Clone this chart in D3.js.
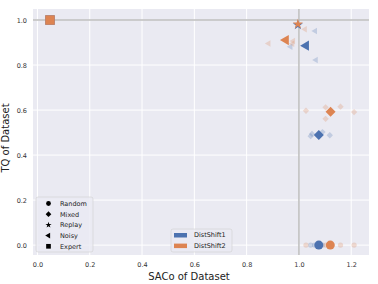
<!DOCTYPE html>
<html><head><meta charset="utf-8">
<script src="https://cdn.jsdelivr.net/npm/d3@7"></script>
<style>body{margin:0;background:#fff}svg{display:block;font-family:"DejaVu Sans",sans-serif}</style>
</head><body><svg id="c" width="378" height="284"></svg>
<script>
const xTicks=[0.0,0.2,0.4,0.6,0.8,1.0,1.2];
const yTicks=[0.0,0.2,0.4,0.6,0.8,1.0];
const seriesNames=["DistShift1","DistShift2"];
const colors=["#4C72B0","#DD8452"];
const datasets=["Random","Mixed","Replay","Noisy","Expert"];
// mean points [series, dataset, saco, tq]
const meanPts=[
 [0,"Random",1.076,0.0],[1,"Random",1.120,0.0],
 [0,"Mixed",1.076,0.489],[1,"Mixed",1.121,0.592],
 [0,"Replay",0.996,0.978],[1,"Replay",0.996,0.982],
 [0,"Noisy",1.027,0.886],[1,"Noisy",0.950,0.911],
 [0,"Expert",0.048,1.0],[1,"Expert",0.048,1.0]
];
// individual runs (faded)
const runPts=[
 [0,"Random",1.045,0.0],[0,"Random",1.060,0.0],[0,"Random",1.090,0.0],
 [1,"Random",1.027,0.0],[1,"Random",1.102,0.0],[1,"Random",1.159,0.0],[1,"Random",1.211,0.0],
 [0,"Mixed",1.045,0.484],[0,"Mixed",1.050,0.494],[0,"Mixed",1.090,0.502],[0,"Mixed",1.118,0.488],
 [1,"Mixed",1.027,0.597],[1,"Mixed",1.102,0.612],[1,"Mixed",1.159,0.615],[1,"Mixed",1.211,0.591],[1,"Mixed",1.102,0.561],
 [0,"Noisy",1.062,0.951],[0,"Noisy",0.968,0.881],[0,"Noisy",1.065,0.822],
 [1,"Noisy",0.884,0.896],[1,"Noisy",1.023,0.959],[1,"Noisy",0.978,0.907],[1,"Noisy",0.975,0.895]
];

const svg=d3.select("#c");
const L=33,R=369,T=9,B=255;
const x=d3.scaleLinear().domain([-0.017,1.268]).range([L,R]);
const y=d3.scaleLinear().domain([-0.044,1.049]).range([B,T]);

svg.append("rect").attr("x",L).attr("y",T).attr("width",R-L).attr("height",B-T).attr("fill","#EAEAF2");
const g=svg.append("g");
g.selectAll(".gx").data(xTicks).join("line").attr("x1",d=>x(d)).attr("x2",d=>x(d)).attr("y1",T).attr("y2",B).attr("stroke","#fff").attr("stroke-width",1);
g.selectAll(".gy").data(yTicks).join("line").attr("y1",d=>y(d)).attr("y2",d=>y(d)).attr("x1",L).attr("x2",R).attr("stroke","#fff").attr("stroke-width",1);

// axes (tick labels only)
const xa=svg.append("g").attr("transform",`translate(0,${B})`).call(d3.axisBottom(x).tickValues(xTicks).tickFormat(d3.format(".1f")).tickSize(0).tickPadding(7));
const ya=svg.append("g").attr("transform",`translate(${L},0)`).call(d3.axisLeft(y).tickValues(yTicks).tickFormat(d3.format(".1f")).tickSize(0).tickPadding(6));
[xa,ya].forEach(a=>{a.select(".domain").remove();a.selectAll("text").attr("font-size",6.5).attr("fill","#333").attr("font-family","DejaVu Sans");});

// reference lines
svg.append("line").attr("x1",L).attr("x2",R).attr("y1",y(1)).attr("y2",y(1)).attr("stroke","#bdbdbd").attr("stroke-width",1.5);
svg.append("line").attr("x1",x(1)).attr("x2",x(1)).attr("y1",T).attr("y2",B).attr("stroke","#bdbdbd").attr("stroke-width",1.5);

function sym(name,size){
  let t;
  if(name==="Random") t=d3.symbolCircle;
  else if(name==="Mixed") t=d3.symbolSquare;
  else if(name==="Replay") t=d3.symbolStar;
  else if(name==="Noisy") t=d3.symbolTriangle;
  else t=d3.symbolSquare;
  return d3.symbol().type(t).size(size)();
}
function rot(name){return name==="Mixed"?45:(name==="Noisy"?-90:0);}
const bigSize={Random:64,Mixed:50,Replay:32,Noisy:45,Expert:90};
const smallSize={Random:22,Mixed:20,Replay:14,Noisy:18,Expert:30};

svg.append("g").selectAll("path").data(runPts).join("path")
 .attr("d",d=>sym(d[1],smallSize[d[1]]))
 .attr("transform",d=>`translate(${x(d[2])},${y(d[3])}) rotate(${rot(d[1])})`)
 .attr("fill",d=>colors[d[0]]).attr("fill-opacity",0.25);
svg.append("g").selectAll("path").data(meanPts).join("path")
 .attr("d",d=>sym(d[1],bigSize[d[1]]))
 .attr("transform",d=>`translate(${x(d[2])},${y(d[3])}) rotate(${rot(d[1])})`)
 .attr("fill",d=>colors[d[0]]);

// axis titles
svg.append("text").attr("x",189).attr("y",280).attr("text-anchor","middle").attr("font-size",10).attr("fill","#222").text("SACo of Dataset");
svg.append("text").attr("transform",`translate(9,138) rotate(-90)`).attr("text-anchor","middle").attr("font-size",10).attr("fill","#222").text("TQ of Dataset");

// legend 1
const l1=svg.append("g");
l1.append("rect").attr("x",36).attr("y",197).attr("width",57).attr("height",55).attr("rx",2).attr("fill","#EAEAF2").attr("fill-opacity",0.8).attr("stroke","#d0d0d0").attr("stroke-width",0.6);
datasets.forEach((n,i)=>{
  const yy=203.5+i*10.7;
  const sz={Random:18,Mixed:16,Replay:12,Noisy:14,Expert:22}[n];
  l1.append("path").attr("d",sym(n,sz)).attr("transform",`translate(48.5,${yy}) rotate(${rot(n)})`).attr("fill","#000");
  l1.append("text").attr("x",60).attr("y",yy+2.3).attr("font-size",6.5).attr("fill","#222").text(n);
});
// legend 2
const l2=svg.append("g");
l2.append("rect").attr("x",171).attr("y",229).attr("width",61).attr("height",23).attr("rx",2).attr("fill","#EAEAF2").attr("fill-opacity",0.8).attr("stroke","#d0d0d0").attr("stroke-width",0.6);
seriesNames.forEach((n,i)=>{
  const yy=235+i*10.6;
  l2.append("rect").attr("x",174).attr("y",yy-2).attr("width",13).attr("height",4.5).attr("fill",colors[i]);
  l2.append("text").attr("x",194).attr("y",yy+2.3).attr("font-size",6.5).attr("fill","#222").text(n);
});
</script></body></html>
